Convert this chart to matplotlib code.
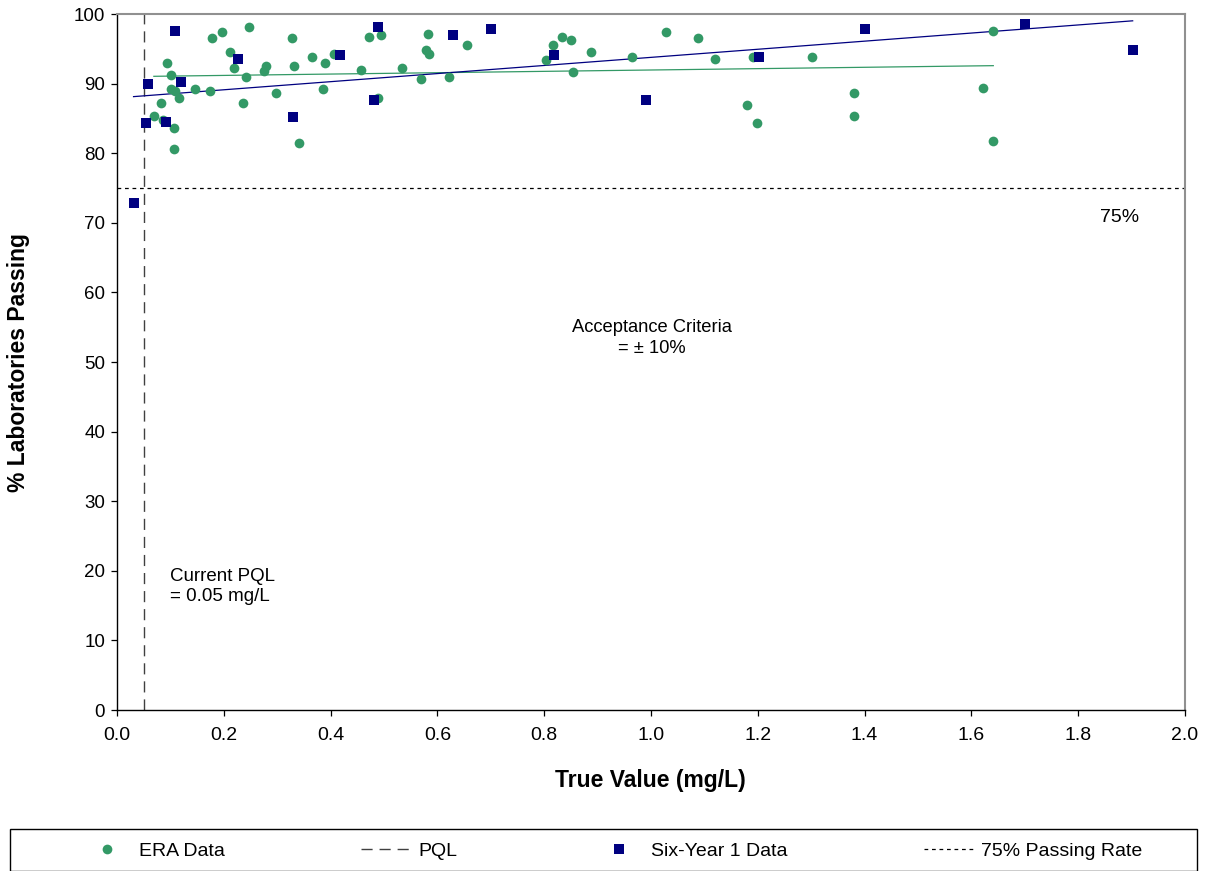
import numpy as np
import matplotlib
matplotlib.use("Agg")
import matplotlib.pyplot as plt
from matplotlib.lines import Line2D
from matplotlib.patches import Rectangle

plt.rcParams['font.family'] = ['Liberation Sans', 'DejaVu Sans']

# ERA data (true value mg/L, % labs passing)
era_x = [0.069, 0.083, 0.086, 0.094, 0.102, 0.102, 0.106, 0.106, 0.109, 0.117,
         0.146, 0.174, 0.177, 0.197, 0.211, 0.219, 0.236, 0.242, 0.248, 0.276,
         0.279, 0.298, 0.327, 0.332, 0.341, 0.366, 0.386, 0.389, 0.406, 0.456,
         0.471, 0.489, 0.494, 0.533, 0.570, 0.579, 0.582, 0.585, 0.621, 0.655,
         0.803, 0.817, 0.834, 0.851, 0.854, 0.887, 0.964, 1.029, 1.088, 1.120,
         1.179, 1.191, 1.199, 1.301, 1.381, 1.381, 1.621, 1.641, 1.641]
era_y = [85.4, 87.2, 84.8, 93.0, 91.2, 89.2, 83.6, 80.6, 89.0, 88.0,
         89.2, 88.9, 96.5, 97.4, 94.5, 92.3, 87.2, 91.0, 98.1, 91.8,
         92.5, 88.7, 96.5, 92.5, 81.4, 93.8, 89.2, 93.0, 94.3, 91.9,
         96.7, 87.9, 97.0, 92.3, 90.7, 94.8, 97.2, 94.3, 91.0, 95.6,
         93.4, 95.6, 96.7, 96.2, 91.6, 94.5, 93.8, 97.4, 96.5, 93.6,
         86.9, 93.8, 84.3, 93.8, 88.7, 85.4, 89.4, 97.6, 81.8]

# Six-Year 1 data
six_x = [0.031, 0.055, 0.058, 0.092, 0.109, 0.119, 0.227, 0.329, 0.417, 0.482,
         0.488, 0.630, 0.700, 0.819, 0.990, 1.202, 1.401, 1.701, 1.902]
six_y = [72.9, 84.3, 89.9, 84.5, 97.6, 90.2, 93.6, 85.2, 94.1, 87.6,
         98.1, 97.0, 97.8, 94.1, 87.6, 93.8, 97.8, 98.5, 94.9]

pql = 0.05
passing_rate = 75

green = '#339966'
navy = '#000080'

fig = plt.figure(figsize=(12.05, 8.71), dpi=100)
ax = fig.add_axes([0.0971, 0.1848, 0.8863, 0.7991])

ax.plot(era_x, era_y, 'o', color=green, markersize=7, markeredgewidth=0, zorder=3)
ax.plot(six_x, six_y, 's', color=navy, markersize=6.6, markeredgewidth=0, zorder=4)

# linear trend lines
for xs, ys, c in [(era_x, era_y, green), (six_x, six_y, navy)]:
    k, b = np.polyfit(xs, ys, 1)
    xl = np.array([min(xs), max(xs)])
    ax.plot(xl, k * xl + b, color=c, lw=0.9, zorder=2)

ax.axvline(pql, color='#404040', lw=1.0, dashes=(8, 5), zorder=1)
ax.axhline(passing_rate, color='black', lw=0.9, dashes=(3, 3), zorder=1)

ax.text(1.002, 53.5, 'Acceptance Criteria\n= \u00b1 10%', ha='center', va='center',
        fontsize=13.2, linespacing=1.3)
ax.text(0.1, 17.7, 'Current PQL\n= 0.05 mg/L', ha='left', va='center',
        fontsize=13.5, linespacing=1.25)
ax.text(1.877, 70.8, '75%', ha='center', va='center', fontsize=14)

ax.set_xlim(0, 2.0)
ax.set_ylim(0, 100)
ax.set_xticks(np.arange(0, 2.01, 0.2))
ax.set_xticklabels([f'{v:.1f}' for v in np.arange(0, 2.01, 0.2)], fontsize=14)
ax.set_yticks(np.arange(0, 101, 10))
ax.tick_params(axis='y', labelsize=13.5, pad=4)
ax.tick_params(axis='x', pad=8)
ax.tick_params(direction='out', length=4.5, width=0.9, color='black')
for s in ['left', 'bottom']:
    ax.spines[s].set_color('black')
    ax.spines[s].set_linewidth(1.0)
for s in ['top', 'right']:
    ax.spines[s].set_color('#909090')
    ax.spines[s].set_linewidth(1.5)

fig.text(19 / 1205, 1 - 362 / 871, '% Laboratories Passing', rotation=90,
         ha='center', va='center', fontsize=16.5, fontweight='bold')
fig.text(650 / 1205, 1 - 780 / 871, 'True Value (mg/L)', ha='center', va='center',
         fontsize=16.5, fontweight='bold')

# legend box
fig.patches.append(Rectangle((10 / 1205, 0.0), 1187 / 1205, 42 / 871,
                             transform=fig.transFigure, fill=False,
                             edgecolor='black', lw=1.0))
handles = [
    Line2D([], [], ls='none', marker='o', color=green, markersize=7, markeredgewidth=0),
    Line2D([], [], color='#404040', lw=1.0, dashes=(8, 5)),
    Line2D([], [], ls='none', marker='s', color=navy, markersize=6.6, markeredgewidth=0),
    Line2D([], [], color='black', lw=0.9, dashes=(3, 3)),
]
labels = ['ERA Data', 'PQL', 'Six-Year 1 Data', '75% Passing Rate']
fig.legend(handles, labels, loc='center', bbox_to_anchor=(612 / 1205, 20 / 871),
           ncol=4, frameon=False, fontsize=14, handlelength=2.6,
           handletextpad=0.35, columnspacing=7.0)

fig.savefig('out.png', dpi=100)
